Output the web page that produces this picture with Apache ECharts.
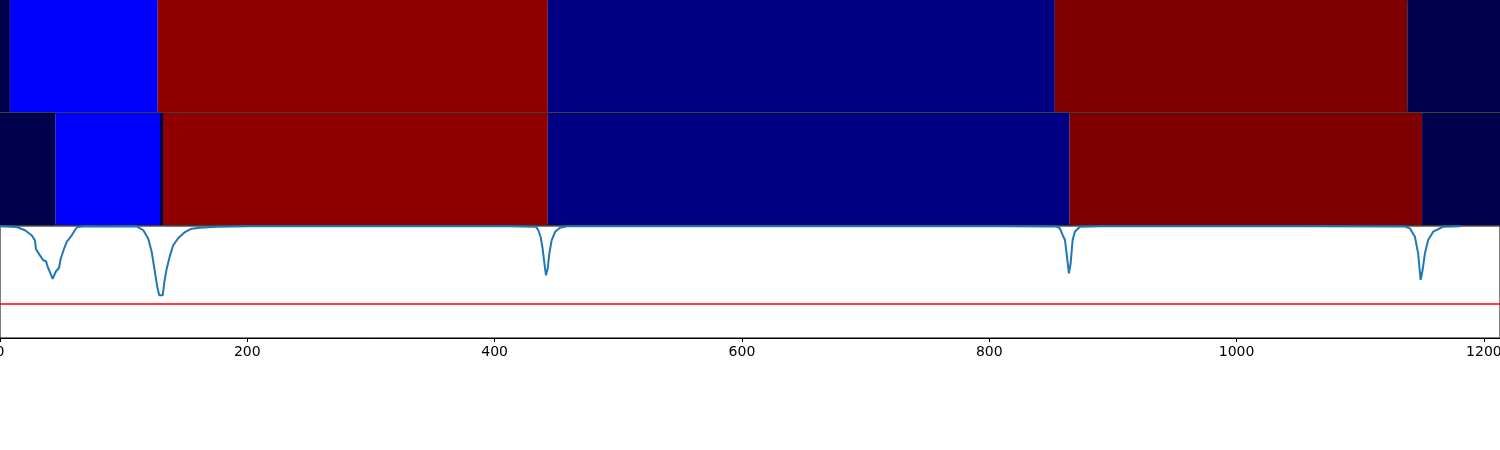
<!DOCTYPE html>
<html>
<head>
<meta charset="utf-8">
<script src="https://cdn.jsdelivr.net/npm/echarts@6/dist/echarts.min.js"></script>
<style>html,body{margin:0;padding:0;background:#fff}#c{width:1500px;height:450px}</style>
</head>
<body>
<div id="c"></div>
<script>
// ---- data ----
const xMax = 1213;
const xTicks = [0, 200, 400, 600, 800, 1000, 1200];
// segment boundaries and class of each segment (row 1 and row 2)
const row1Bounds = [0, 8, 127.5, 443, 853, 1138, 1213];
const row1Class  = ['dark', 'blue', 'red', 'navy', 'maroon', 'dark'];
const row2Bounds = [0, 45, 129.4, 131.8, 443, 865, 1150, 1213];
const row2Class  = ['dark', 'blue', 'dark', 'red', 'navy', 'maroon', 'dark'];
// signal curve
const curveX = [0, 13.5, 20.2, 25.6, 28.3, 29.1, 32.3, 35.0, 37.2, 38.6, 40.4, 42.6, 43.9, 45.3, 47.7, 49.1, 51.8, 53.9, 58.0, 60.6, 62.5, 70.1,
  80.9, 110.5, 115.9, 119.9, 122.7, 125.3, 127.2, 128.8, 131.6, 132.9, 134.8, 137.5, 140.1, 144.2, 149.6, 155.0, 161.7, 175.2, 202.2,
  300, 412.4, 433.4, 435.3, 437.2, 438.8, 440.1, 441.5, 442.9, 444.2, 446.1, 448.8, 452.8, 458.2,
  485, 647, 808.6, 849, 854.4, 857.1, 859.3, 861.2, 862.5, 864.4, 865.8, 867.4, 869.2, 873.3, 889.4,
  1051.2, 1136.1, 1140.1, 1144.2, 1146.8, 1148.8, 1150.4, 1152.3, 1154.9, 1159.0, 1167.1, 1180.6];
const curveY = [0.997, 0.991, 0.962, 0.917, 0.872, 0.792, 0.738, 0.694, 0.685, 0.634, 0.589, 0.529, 0.545, 0.596, 0.625, 0.708, 0.797, 0.857, 0.917, 0.962, 0.991, 0.997,
  0.995, 0.997, 0.962, 0.887, 0.768, 0.589, 0.455, 0.381, 0.381, 0.500, 0.619, 0.738, 0.828, 0.893, 0.946, 0.976, 0.985, 0.994, 0.997,
  0.997, 0.997, 0.994, 0.962, 0.902, 0.797, 0.679, 0.560, 0.619, 0.753, 0.872, 0.946, 0.985, 0.997,
  0.997, 0.997, 0.997, 0.996, 0.995, 0.979, 0.920, 0.875, 0.756, 0.578, 0.667, 0.875, 0.949, 0.994, 0.997,
  0.997, 0.995, 0.979, 0.904, 0.756, 0.518, 0.607, 0.756, 0.875, 0.949, 0.994, 0.997];
const threshold = 0.3125;

// ---- styles ----
const palette = { dark: '#00004c', blue: '#0000ff', red: '#910000', navy: '#000084', maroon: '#7f0000' };
const classNames = Object.keys(palette);

function segs(bounds, cls) {
  const out = [];
  for (let i = 0; i < cls.length; i++) out.push([bounds[i], bounds[i + 1], classNames.indexOf(cls[i])]);
  return out;
}
function renderSeg(params, api) {
  const p0 = api.coord([api.value(0), 1]);
  const p1 = api.coord([api.value(1), 0]);
  return {
    type: 'rect',
    shape: { x: p0[0], y: p0[1], width: p1[0] - p0[0], height: p1[1] - p0[1] },
    style: { fill: palette[classNames[api.value(2)]] }
  };
}

const chart = echarts.init(document.getElementById('c'), null, { renderer: 'canvas' });
const gridBase = { left: 0, right: 0, height: 112, show: true, borderColor: '#000', borderWidth: 1,
  backgroundColor: 'transparent', containLabel: false, outerBoundsMode: 'none' };
const hiddenX = i => ({ gridIndex: i, type: 'value', min: 0, max: xMax, show: false });
const hiddenY = i => ({ gridIndex: i, type: 'value', min: 0, max: 1, show: false });

chart.setOption({
  animation: false,
  backgroundColor: '#fff',
  grid: [
    Object.assign({ top: 0 }, gridBase),
    Object.assign({ top: 113 }, gridBase),
    Object.assign({ top: 226 }, gridBase)
  ],
  xAxis: [
    hiddenX(0), hiddenX(1),
    {
      gridIndex: 2, type: 'value', min: 0, max: xMax, interval: 200,
      axisLine: { show: true, lineStyle: { color: '#000', width: 1 } },
      axisTick: { show: true, length: 4, lineStyle: { color: '#000' } },
      axisLabel: {
        show: true, color: '#000', fontFamily: 'DejaVu Sans', fontSize: 14, margin: 7,
        formatter: v => (xTicks.indexOf(v) >= 0 ? String(v) : ''),
        showMaxLabel: false
      },
      splitLine: { show: false }
    }
  ],
  yAxis: [hiddenY(0), hiddenY(1), hiddenY(2)],
  series: [
    { type: 'custom', xAxisIndex: 0, yAxisIndex: 0, renderItem: renderSeg, encode: { x: [0, 1] }, data: segs(row1Bounds, row1Class), silent: true },
    { type: 'custom', xAxisIndex: 1, yAxisIndex: 1, renderItem: renderSeg, encode: { x: [0, 1] }, data: segs(row2Bounds, row2Class), silent: true },
    {
      type: 'line', xAxisIndex: 2, yAxisIndex: 2, showSymbol: false, smooth: false,
      lineStyle: { color: '#1f77b4', width: 2 }, itemStyle: { color: '#1f77b4' },
      data: curveX.map((x, i) => [x, curveY[i]]),
      markLine: {
        silent: true, symbol: ['none', 'none'], label: { show: false },
        lineStyle: { color: '#ff0000', width: 1.5, type: 'solid' },
        data: [{ yAxis: threshold }]
      }
    }
  ]
});
</script>
</body>
</html>
